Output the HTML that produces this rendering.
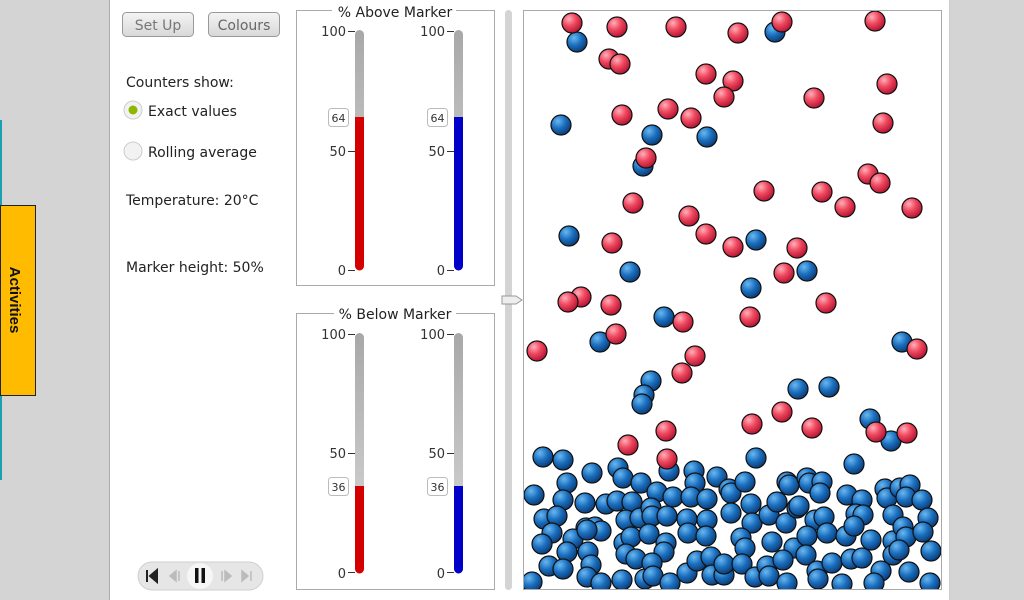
<!DOCTYPE html>
<html><head><meta charset="utf-8"><style>
html,body{margin:0;padding:0;width:1024px;height:600px;overflow:hidden;background:#d4d4d4}
svg{display:block;font-family:"DejaVu Sans","Liberation Sans",sans-serif}
.r{fill:url(#gr);stroke:#111;stroke-width:1.2}
.b{fill:url(#gb);stroke:#111;stroke-width:1.2}
.t{font-size:14px;fill:#222}
.n{font-size:13px;fill:#333}
</style></head><body>
<svg width="1024" height="600" viewBox="0 0 1024 600">
<defs>
<radialGradient id="gr" cx="0.35" cy="0.3" r="0.75"><stop offset="0" stop-color="#ffb0bc"/><stop offset="0.45" stop-color="#f04a60"/><stop offset="1" stop-color="#b01030"/></radialGradient>
<radialGradient id="gb" cx="0.35" cy="0.3" r="0.75"><stop offset="0" stop-color="#6ab8f0"/><stop offset="0.5" stop-color="#1b6fbf"/><stop offset="1" stop-color="#0a3870"/></radialGradient>
<linearGradient id="tube" x1="0" y1="0" x2="0" y2="1"><stop offset="0" stop-color="#a8a8a8"/><stop offset="1" stop-color="#dcdcdc"/></linearGradient>
<linearGradient id="btn" x1="0" y1="0" x2="0" y2="1"><stop offset="0" stop-color="#f4f4f4"/><stop offset="1" stop-color="#d8d8d8"/></linearGradient>
</defs>
<rect x="0" y="0" width="1024" height="600" fill="#d4d4d4"/>
<rect x="110" y="0" width="839" height="600" fill="#fff"/>
<line x1="109.5" y1="0" x2="109.5" y2="600" stroke="#aaa"/>
<line x1="949.5" y1="0" x2="949.5" y2="600" stroke="#ccc"/>
<line x1="1" y1="120" x2="1" y2="480" stroke="#1aa0b0" stroke-width="2"/>
<rect x="0.5" y="205.5" width="35" height="190" fill="#ffbb00" stroke="#222"/>
<text transform="translate(10,300) rotate(90)" text-anchor="middle" font-size="15" font-weight="bold" fill="#111" font-family="Liberation Sans,sans-serif">Activities</text>

<rect x="122.5" y="12.5" width="71" height="24" rx="4" fill="url(#btn)" stroke="#999"/>
<text x="158" y="30" text-anchor="middle" class="t" fill="#777" style="fill:#777">Set Up</text>
<rect x="208.5" y="12.5" width="71" height="24" rx="4" fill="url(#btn)" stroke="#999"/>
<text x="244" y="30" text-anchor="middle" class="t" style="fill:#666">Colours</text>
<text x="126" y="87" class="t">Counters show:</text>
<circle cx="133" cy="110" r="9" fill="#f2f2f2" stroke="#ccc"/><circle cx="133" cy="110" r="4.5" fill="#8cb800"/>
<text x="148" y="116" class="t">Exact values</text>
<circle cx="133" cy="151" r="9" fill="#f2f2f2" stroke="#ccc"/>
<text x="148" y="157" class="t">Rolling average</text>
<text x="126" y="205" class="t">Temperature: 20°C</text>
<text x="126" y="272" class="t">Marker height: 50%</text>

<rect x="138" y="562" width="125" height="28" rx="14" fill="#e6e6e6" stroke="#d0d0d0"/>
<circle cx="200" cy="576" r="13" fill="#f6f6f6"/>
<path d="M147 570v12M150 576l7-6v12z" stroke="#222" fill="#222" stroke-width="2"/>
<path d="M170 576l6-5v10z M179 571v10" stroke="#bbb" fill="#bbb" stroke-width="1.5"/>
<rect x="195" y="568" width="3.5" height="15" fill="#111"/><rect x="201.5" y="568" width="3.5" height="15" fill="#111"/>
<path d="M222 571v10M225 571l6 5-6 5z" stroke="#bbb" fill="#bbb" stroke-width="1.5"/>
<path d="M242 571l6 5-6 5z M251 571v10" stroke="#bbb" fill="#bbb" stroke-width="1.5"/>

<!-- top box -->
<rect x="296.5" y="10.5" width="198" height="275" fill="none" stroke="#aaa"/>
<rect x="332" y="4" width="124" height="14" fill="#fff"/>
<text x="395" y="17" text-anchor="middle" class="t">% Above Marker</text>
<g class="n" text-anchor="end">
<text x="346" y="36">100</text><text x="346" y="156">50</text><text x="346" y="275">0</text>
<text x="445" y="36">100</text><text x="445" y="156">50</text><text x="445" y="275">0</text>
</g>
<g stroke="#333"><line x1="348" y1="31.5" x2="355" y2="31.5"/><line x1="348" y1="151.5" x2="355" y2="151.5"/><line x1="348" y1="270.5" x2="355" y2="270.5"/>
<line x1="447" y1="31.5" x2="454" y2="31.5"/><line x1="447" y1="151.5" x2="454" y2="151.5"/><line x1="447" y1="270.5" x2="454" y2="270.5"/></g>
<rect x="355" y="30" width="9" height="240" rx="4.5" fill="url(#tube)"/>
<path d="M355 117h9v149a4.5 4.5 0 0 1-9 0z" fill="#d40000"/>
<rect x="454" y="30" width="9" height="240" rx="4.5" fill="url(#tube)"/>
<path d="M454 117h9v149a4.5 4.5 0 0 1-9 0z" fill="#0000c8"/>
<rect x="328.5" y="108.5" width="20" height="18" rx="3" fill="#fff" stroke="#bbb"/><text x="338.5" y="122" text-anchor="middle" font-size="11" fill="#333">64</text>
<rect x="427.5" y="108.5" width="20" height="18" rx="3" fill="#fff" stroke="#bbb"/><text x="437.5" y="122" text-anchor="middle" font-size="11" fill="#333">64</text>

<!-- bottom box -->
<rect x="296.5" y="313.5" width="198" height="276" fill="none" stroke="#aaa"/>
<rect x="334" y="306" width="122" height="14" fill="#fff"/>
<text x="395" y="319" text-anchor="middle" class="t">% Below Marker</text>
<g class="n" text-anchor="end">
<text x="346" y="339">100</text><text x="346" y="458">50</text><text x="346" y="578">0</text>
<text x="445" y="339">100</text><text x="445" y="458">50</text><text x="445" y="578">0</text>
</g>
<g stroke="#333"><line x1="348" y1="334.5" x2="355" y2="334.5"/><line x1="348" y1="453.5" x2="355" y2="453.5"/><line x1="348" y1="572.5" x2="355" y2="572.5"/>
<line x1="447" y1="334.5" x2="454" y2="334.5"/><line x1="447" y1="453.5" x2="454" y2="453.5"/><line x1="447" y1="572.5" x2="454" y2="572.5"/></g>
<rect x="355" y="333" width="9" height="240" rx="4.5" fill="url(#tube)"/>
<path d="M355 486h9v83a4.5 4.5 0 0 1-9 0z" fill="#d40000"/>
<rect x="454" y="333" width="9" height="240" rx="4.5" fill="url(#tube)"/>
<path d="M454 486h9v83a4.5 4.5 0 0 1-9 0z" fill="#0000c8"/>
<rect x="328.5" y="477.5" width="20" height="18" rx="3" fill="#fff" stroke="#bbb"/><text x="338.5" y="491" text-anchor="middle" font-size="11" fill="#333">36</text>
<rect x="427.5" y="477.5" width="20" height="18" rx="3" fill="#fff" stroke="#bbb"/><text x="437.5" y="491" text-anchor="middle" font-size="11" fill="#333">36</text>

<!-- slider -->
<rect x="505" y="10" width="7" height="580" rx="3.5" fill="#d4d4d4"/>
<path d="M502 296h14l6 4-6 4h-14z" fill="#eee" stroke="#999"/>

<!-- container -->
<rect x="523.5" y="10.5" width="418" height="579" fill="#fff" stroke="#aaa"/>
<svg x="524" y="11" width="417" height="578" viewBox="524 11 417 578" overflow="hidden">
<g class="b">
<circle cx="577" cy="42" r="10"/><circle cx="775" cy="32" r="10"/><circle cx="561" cy="125" r="10"/><circle cx="652" cy="135" r="10"/><circle cx="707" cy="137" r="10"/><circle cx="643" cy="166" r="10"/><circle cx="569" cy="236" r="10"/><circle cx="756" cy="240" r="10"/><circle cx="630" cy="272" r="10"/><circle cx="807" cy="271" r="10"/><circle cx="751" cy="288" r="10"/><circle cx="664" cy="317" r="10"/><circle cx="600" cy="342" r="10"/><circle cx="902" cy="342" r="10"/><circle cx="651" cy="381" r="10"/><circle cx="644" cy="395" r="10"/><circle cx="642" cy="404" r="10"/><circle cx="798" cy="389" r="10"/><circle cx="829" cy="387" r="10"/><circle cx="870" cy="419" r="10"/><circle cx="891" cy="441" r="10"/><circle cx="854" cy="464" r="10"/>
<circle cx="543" cy="457" r="10"/><circle cx="563" cy="460" r="10"/><circle cx="592" cy="473" r="10"/><circle cx="618" cy="468" r="10"/><circle cx="623" cy="478" r="10"/><circle cx="567" cy="483" r="10"/><circle cx="534" cy="495" r="10"/><circle cx="563" cy="500" r="10"/><circle cx="585" cy="503" r="10"/><circle cx="606" cy="504" r="10"/><circle cx="617" cy="501" r="10"/><circle cx="632" cy="502" r="10"/><circle cx="641" cy="483" r="10"/><circle cx="657" cy="492" r="10"/><circle cx="673" cy="497" r="10"/><circle cx="669" cy="471" r="10"/><circle cx="694" cy="471" r="10"/><circle cx="695" cy="483" r="10"/><circle cx="691" cy="497" r="10"/><circle cx="707" cy="499" r="10"/><circle cx="717" cy="477" r="10"/><circle cx="729" cy="489" r="10"/><circle cx="731" cy="493" r="10"/><circle cx="745" cy="482" r="10"/><circle cx="756" cy="458" r="10"/><circle cx="787" cy="482" r="10"/><circle cx="789" cy="485" r="10"/><circle cx="807" cy="478" r="10"/><circle cx="809" cy="483" r="10"/><circle cx="822" cy="482" r="10"/><circle cx="820" cy="493" r="10"/><circle cx="847" cy="495" r="10"/><circle cx="862" cy="500" r="10"/><circle cx="885" cy="489" r="10"/><circle cx="887" cy="498" r="10"/><circle cx="900" cy="488" r="10"/><circle cx="910" cy="485" r="10"/><circle cx="906" cy="497" r="10"/><circle cx="922" cy="500" r="10"/>
<circle cx="544" cy="519" r="10"/><circle cx="557" cy="516" r="10"/><circle cx="586" cy="528" r="10"/><circle cx="595" cy="527" r="10"/><circle cx="601" cy="531" r="10"/><circle cx="626" cy="520" r="10"/><circle cx="640" cy="518" r="10"/><circle cx="651" cy="508" r="10"/><circle cx="652" cy="516" r="10"/><circle cx="667" cy="516" r="10"/><circle cx="687" cy="519" r="10"/><circle cx="707" cy="520" r="10"/><circle cx="731" cy="513" r="10"/><circle cx="751" cy="504" r="10"/><circle cx="752" cy="523" r="10"/><circle cx="769" cy="515" r="10"/><circle cx="777" cy="502" r="10"/><circle cx="786" cy="523" r="10"/><circle cx="797" cy="508" r="10"/><circle cx="799" cy="506" r="10"/><circle cx="815" cy="520" r="10"/><circle cx="824" cy="517" r="10"/><circle cx="856" cy="514" r="10"/><circle cx="863" cy="515" r="10"/><circle cx="893" cy="515" r="10"/><circle cx="928" cy="518" r="10"/>
<circle cx="552" cy="533" r="10"/><circle cx="542" cy="544" r="10"/><circle cx="573" cy="539" r="10"/><circle cx="567" cy="552" r="10"/><circle cx="587" cy="530" r="10"/><circle cx="624" cy="543" r="10"/><circle cx="631" cy="537" r="10"/><circle cx="626" cy="554" r="10"/><circle cx="636" cy="559" r="10"/><circle cx="649" cy="534" r="10"/><circle cx="666" cy="543" r="10"/><circle cx="664" cy="552" r="10"/><circle cx="688" cy="533" r="10"/><circle cx="706" cy="536" r="10"/><circle cx="741" cy="538" r="10"/><circle cx="745" cy="548" r="10"/><circle cx="772" cy="542" r="10"/><circle cx="794" cy="548" r="10"/><circle cx="807" cy="536" r="10"/><circle cx="827" cy="533" r="10"/><circle cx="846" cy="536" r="10"/><circle cx="854" cy="526" r="10"/><circle cx="871" cy="540" r="10"/><circle cx="893" cy="541" r="10"/><circle cx="903" cy="527" r="10"/><circle cx="906" cy="537" r="10"/><circle cx="923" cy="532" r="10"/><circle cx="931" cy="551" r="10"/>
<circle cx="588" cy="552" r="10"/><circle cx="591" cy="565" r="10"/><circle cx="549" cy="566" r="10"/><circle cx="563" cy="569" r="10"/><circle cx="587" cy="577" r="10"/><circle cx="601" cy="583" r="10"/><circle cx="622" cy="580" r="10"/><circle cx="645" cy="579" r="10"/><circle cx="652" cy="563" r="10"/><circle cx="653" cy="576" r="10"/><circle cx="670" cy="583" r="10"/><circle cx="687" cy="573" r="10"/><circle cx="697" cy="561" r="10"/><circle cx="711" cy="557" r="10"/><circle cx="712" cy="575" r="10"/><circle cx="724" cy="575" r="10"/><circle cx="724" cy="564" r="10"/><circle cx="742" cy="564" r="10"/><circle cx="755" cy="577" r="10"/><circle cx="767" cy="566" r="10"/><circle cx="769" cy="576" r="10"/><circle cx="783" cy="560" r="10"/><circle cx="787" cy="583" r="10"/><circle cx="806" cy="555" r="10"/><circle cx="817" cy="571" r="10"/><circle cx="818" cy="579" r="10"/><circle cx="832" cy="563" r="10"/><circle cx="842" cy="584" r="10"/><circle cx="851" cy="559" r="10"/><circle cx="862" cy="558" r="10"/><circle cx="881" cy="571" r="10"/><circle cx="874" cy="583" r="10"/><circle cx="893" cy="555" r="10"/><circle cx="899" cy="550" r="10"/><circle cx="909" cy="572" r="10"/><circle cx="930" cy="583" r="10"/><circle cx="532" cy="582" r="10"/>
</g>
<g class="r">
<circle cx="572" cy="23" r="10"/><circle cx="617" cy="27" r="10"/><circle cx="676" cy="27" r="10"/><circle cx="738" cy="33" r="10"/><circle cx="782" cy="22" r="10"/><circle cx="875" cy="21" r="10"/><circle cx="609" cy="59" r="10"/><circle cx="620" cy="64" r="10"/><circle cx="706" cy="74" r="10"/><circle cx="733" cy="81" r="10"/><circle cx="724" cy="97" r="10"/><circle cx="887" cy="84" r="10"/><circle cx="814" cy="98" r="10"/><circle cx="622" cy="115" r="10"/><circle cx="668" cy="109" r="10"/><circle cx="691" cy="118" r="10"/><circle cx="883" cy="123" r="10"/><circle cx="646" cy="158" r="10"/><circle cx="633" cy="203" r="10"/><circle cx="764" cy="191" r="10"/><circle cx="822" cy="192" r="10"/><circle cx="868" cy="174" r="10"/><circle cx="880" cy="183" r="10"/><circle cx="845" cy="207" r="10"/><circle cx="912" cy="208" r="10"/><circle cx="689" cy="216" r="10"/><circle cx="706" cy="234" r="10"/><circle cx="733" cy="247" r="10"/><circle cx="612" cy="243" r="10"/><circle cx="797" cy="248" r="10"/><circle cx="784" cy="273" r="10"/><circle cx="581" cy="297" r="10"/><circle cx="568" cy="302" r="10"/><circle cx="611" cy="305" r="10"/><circle cx="826" cy="303" r="10"/><circle cx="750" cy="317" r="10"/><circle cx="683" cy="322" r="10"/><circle cx="616" cy="334" r="10"/><circle cx="537" cy="351" r="10"/><circle cx="695" cy="356" r="10"/><circle cx="682" cy="373" r="10"/><circle cx="917" cy="349" r="10"/><circle cx="782" cy="412" r="10"/><circle cx="752" cy="424" r="10"/><circle cx="812" cy="428" r="10"/><circle cx="876" cy="432" r="10"/><circle cx="907" cy="433" r="10"/><circle cx="666" cy="431" r="10"/><circle cx="628" cy="445" r="10"/><circle cx="667" cy="459" r="10"/>
</g>
</svg>
</svg>
</body></html>
